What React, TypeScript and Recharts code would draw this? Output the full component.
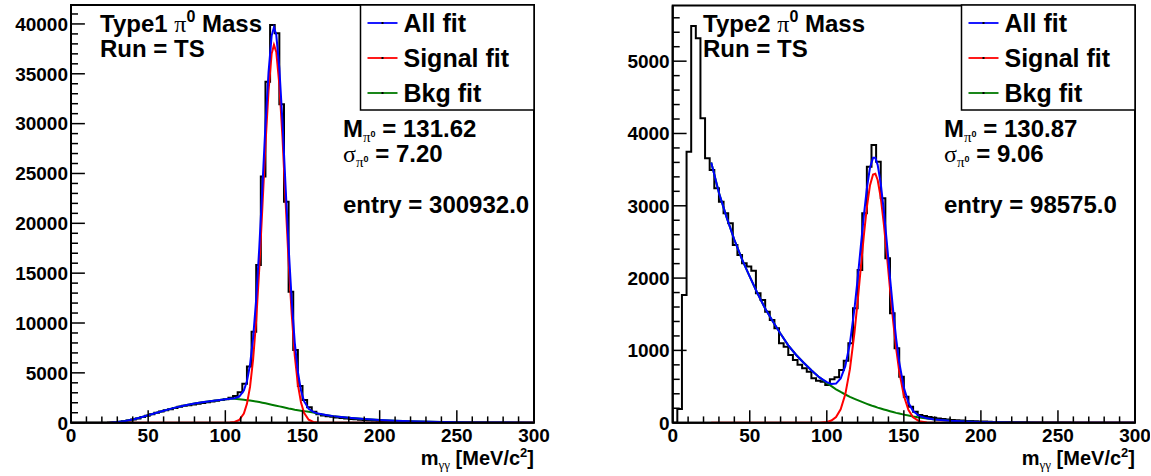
import React from 'react';
import { ComposedChart, Line, XAxis, YAxis, ReferenceArea } from 'recharts';

// ---------- data ----------
const BIN_WIDTH = 3; // MeV per histogram bin
const X_DOMAIN: [number, number] = [0, 300];
const X_TICK_LABELS = [0, 50, 100, 150, 200, 250, 300];
const X_MINOR_STEP = 10;

const Y1_MAX = 41900;
const Y1_TICK_LABELS = [0, 5000, 10000, 15000, 20000, 25000, 30000, 35000, 40000];
const Y1_MINOR_STEP = 1000;
const Y2_MAX = 5770;
const Y2_TICK_LABELS = [0, 1000, 2000, 3000, 4000, 5000];
const Y2_MINOR_STEP = 200;

// Type1 histogram, 100 bins of 3 MeV from 0 to 300
const TYPE1_COUNTS = [
  0, 0, 0, 0, 0, 0, 0, 0, 20, 40,
  80, 150, 230, 330, 430, 560, 700, 850, 1000, 1120,
  1250, 1360, 1480, 1600, 1700, 1760, 1830, 1900, 1980, 2050,
  2120, 2200, 2270, 2340, 2500, 2680, 3050, 3900, 5650, 9130,
  15820, 24700, 34200, 39900, 39070, 31940, 22170, 13140, 7290, 3680,
  2280, 1540, 1100, 840, 720, 650, 590, 530, 470, 420,
  380, 340, 300, 270, 240, 210, 190, 170, 150, 130,
  115, 100, 90, 80, 70, 60, 52, 45, 40, 35,
  30, 26, 22, 19, 16, 14, 12, 10, 9, 8,
  7, 6, 5, 5, 4, 4, 3, 3, 2, 2,
];

// Type2 histogram, 100 bins of 3 MeV from 0 to 300
const TYPE2_COUNTS = [
  0, 190, 1766, 3748, 5487, 5317, 4210, 3657, 3495, 3242,
  3057, 2896, 2758, 2458, 2320, 2205, 2160, 2100, 1790, 1697,
  1535, 1420, 1306, 1098, 1051, 936, 867, 800, 752, 705,
  614, 581, 567, 521, 600, 628, 729, 858, 1098, 1582,
  2112, 2896, 3541, 3841, 3610, 3103, 2273, 1513, 1029, 636,
  360, 221, 152, 106, 92, 80, 68, 58, 50, 44,
  38, 33, 29, 25, 22, 19, 17, 15, 13, 11,
  10, 9, 8, 7, 6, 5, 5, 4, 4, 3,
  3, 3, 2, 2, 2, 2, 1, 1, 1, 1,
  1, 1, 0, 0, 0, 0, 0, 0, 0, 0,
];

// Type1 fit curves
const FIT1_X = [25, 30, 35, 40, 45, 50, 55, 60, 65, 70, 75, 80, 85, 90, 95, 100, 103, 106, 109, 112, 114, 116, 118, 120, 122, 124, 126, 128, 130, 131.5, 133, 135, 137, 139, 141, 143, 145, 147, 149, 151, 154, 157, 160, 165, 170, 175, 180, 190, 200, 210, 220, 240, 260, 280, 300];
const FIT1_BKG = [0, 60, 170, 330, 530, 750, 980, 1200, 1410, 1610, 1780, 1920, 2040, 2150, 2260, 2350, 2390, 2390, 2350, 2300, 2260, 2220, 2170, 2120, 2070, 2010, 1950, 1880, 1810, 1760, 1710, 1640, 1570, 1500, 1430, 1370, 1310, 1260, 1210, 1160, 1090, 1010, 900, 780, 660, 570, 490, 360, 260, 190, 135, 65, 30, 12, 5];
const FIT1_SIGNAL = [0, 0, 0, 0, 0, 0, 0, 0, 0, 0, 0, 0, 0, 0, 0, 3, 14, 68, 272, 926, 1890, 3590, 6340, 10290, 15500, 21600, 27900, 33300, 37000, 37900, 37200, 33900, 28700, 22300, 16200, 10900, 6700, 3850, 2040, 1000, 300, 75, 15, 1, 0, 0, 0, 0, 0, 0, 0, 0, 0, 0, 0];
const FIT1_ALL = [0, 60, 170, 330, 530, 750, 980, 1200, 1410, 1610, 1780, 1920, 2040, 2150, 2260, 2353, 2404, 2458, 2622, 3226, 4150, 5810, 8510, 12410, 17570, 23610, 29850, 35180, 38810, 39660, 38910, 35540, 30270, 23800, 17630, 12270, 8010, 5110, 3250, 2160, 1390, 1085, 915, 781, 660, 570, 490, 360, 260, 190, 135, 65, 30, 12, 5];

// Type2 fit curves
const FIT2_X = [25, 30, 35, 40, 45, 50, 55, 60, 65, 70, 75, 80, 85, 90, 95, 100, 103, 106, 109, 112, 115, 118, 120, 122, 124, 126, 128, 130, 131.5, 133, 135, 137, 139, 141, 143, 145, 147, 150, 153, 156, 160, 165, 170, 180, 190, 200, 220, 240, 260, 280, 300];
const FIT2_BKG = [3600, 3180, 2840, 2530, 2260, 2020, 1790, 1580, 1400, 1230, 1070, 940, 830, 725, 630, 550, 505, 462, 425, 390, 358, 330, 312, 295, 278, 261, 245, 230, 220, 209, 196, 183, 171, 159, 147, 136, 126, 112, 99, 87, 73, 57, 45, 27, 16, 9, 3, 1, 0, 0, 0];
const FIT2_SIGNAL = [0, 0, 0, 0, 0, 0, 0, 0, 0, 0, 0, 0, 0, 0, 0, 10, 30, 79, 186, 392, 740, 1253, 1674, 2130, 2580, 2980, 3280, 3433, 3443, 3357, 3115, 2750, 2314, 1853, 1416, 1028, 712, 373, 176, 75, 20, 3, 0, 0, 0, 0, 0, 0, 0, 0, 0];
const FIT2_ALL = [3600, 3180, 2840, 2530, 2260, 2020, 1790, 1580, 1400, 1230, 1070, 940, 830, 725, 630, 560, 535, 541, 611, 782, 1098, 1583, 1986, 2425, 2858, 3241, 3525, 3663, 3663, 3566, 3311, 2933, 2485, 2012, 1563, 1164, 838, 485, 275, 162, 93, 60, 45, 27, 16, 9, 3, 1, 0, 0, 0];

const TITLES = ['Type1', 'Type2'];
const RUN_LABEL = 'Run = TS';
const MASS_VALUES = ['131.62', '130.87'];
const SIGMA_VALUES = ['7.20', '9.06'];
const ENTRY_VALUES = ['300932.0', '98575.0'];
const LEGEND_LABELS = ['All fit', 'Signal fit', 'Bkg fit'];

// ---------- style ----------
const SANS = '"Liberation Sans", Arial, Helvetica, sans-serif';
const SERIF = '"Liberation Serif", "Times New Roman", serif';
const BLUE = '#0000ff';
const RED = '#ff0000';
const GREEN = '#007a00';
const LEGEND_COLORS = [BLUE, RED, GREEN];

const CHART_W = 575;
const CHART_H = 476;
const X_AXIS_H = 40;
const Y_AXIS_W = 60;

const histTable = (counts: number[]) => [
  ...counts.map((c, i) => ({ x: i * BIN_WIDTH, y: c })),
  { x: counts.length * BIN_WIDTH, y: counts[counts.length - 1] },
];
const fitTable = (xs: number[], ys: number[]) => xs.map((x, i) => ({ x, y: ys[i] }));
const stepTicks = (max: number, step: number) => {
  const out: number[] = [];
  for (let v = 0; v <= max + 1e-9; v += step) out.push(v);
  return out;
};

const XTick = (props: any) => {
  const { x, y, payload } = props;
  const major = X_TICK_LABELS.includes(payload.value);
  return (
    <g>
      <line x1={x} x2={x} y1={y} y2={y - (major ? 12.5 : 6.3)} stroke="#000" strokeWidth={1.5} />
      {major && (
        <text x={x} y={y + 19} textAnchor="middle" fontFamily={SANS} fontWeight="bold" fontSize={19} fill="#000">
          {payload.value}
        </text>
      )}
    </g>
  );
};

const makeYTick = (labels: number[]) => (props: any) => {
  const { x, y, payload } = props;
  const major = labels.includes(payload.value);
  return (
    <g>
      <line x1={x} x2={x + (major ? 13.9 : 7)} y1={y} y2={y} stroke="#000" strokeWidth={1.5} />
      {major && (
        <text x={x - 3} y={y + 6.8} textAnchor="end" fontFamily={SANS} fontWeight="bold" fontSize={19} fill="#000">
          {payload.value}
        </text>
      )}
    </g>
  );
};

type PanelProps = {
  left: number;
  plotLeft: number;
  plotRight: number;
  plotTop: number;
  plotBottom: number;
  counts: number[];
  fitX: number[];
  fitAll: number[];
  fitSig: number[];
  fitBkg: number[];
  yMax: number;
  yLabels: number[];
  yStep: number;
};

const Panel = ({ left, plotLeft, plotRight, plotTop, plotBottom, counts, fitX, fitAll, fitSig, fitBkg, yMax, yLabels, yStep }: PanelProps) => {
  const yTicks = stepTicks(yMax, yStep);
  const xTicks = stepTicks(X_DOMAIN[1], X_MINOR_STEP);
  const margin = {
    top: plotTop,
    right: CHART_W - plotRight,
    bottom: CHART_H - plotBottom - X_AXIS_H,
    left: plotLeft - Y_AXIS_W,
  };
  const YTick = makeYTick(yLabels);
  return (
    <div style={{ position: 'absolute', left, top: 0, width: CHART_W, height: CHART_H }}>
      <ComposedChart width={CHART_W} height={CHART_H} margin={margin}>
        <XAxis
          type="number"
          dataKey="x"
          domain={X_DOMAIN}
          ticks={xTicks}
          interval={0}
          height={X_AXIS_H}
          tickSize={0}
          tickMargin={0}
          tickLine={false}
          tick={(p: any) => <XTick {...p} />}
          axisLine={{ stroke: '#000', strokeWidth: 2 }}
          allowDataOverflow
        />
        <YAxis
          type="number"
          dataKey="y"
          domain={[0, yMax]}
          ticks={yTicks}
          interval={0}
          width={Y_AXIS_W}
          tickSize={0}
          tickMargin={0}
          tickLine={false}
          tick={(p: any) => <YTick {...p} />}
          axisLine={{ stroke: '#000', strokeWidth: 2 }}
          allowDataOverflow
        />
        <ReferenceArea x1={X_DOMAIN[0]} x2={X_DOMAIN[1]} y1={0} y2={yMax} fill="none" stroke="#000" strokeWidth={2} />
        <Line data={histTable(counts)} dataKey="y" type="stepAfter" stroke="#000" strokeWidth={2} dot={false} isAnimationActive={false} />
        <Line data={fitTable(fitX, fitBkg)} dataKey="y" type="linear" stroke={GREEN} strokeWidth={2} dot={false} isAnimationActive={false} />
        <Line data={fitTable(fitX, fitSig)} dataKey="y" type="linear" stroke={RED} strokeWidth={2} dot={false} isAnimationActive={false} />
        <Line data={fitTable(fitX, fitAll)} dataKey="y" type="linear" stroke={BLUE} strokeWidth={2} dot={false} isAnimationActive={false} />
      </ComposedChart>
    </div>
  );
};

const Texts = ({ idx, plotRight, titleX, statsX }: { idx: number; plotRight: number; titleX: number; statsX: number }) => {
  const legW = 173.5;
  const legX = plotRight - legW;
  const baseText = { fontFamily: SANS, fontWeight: 'bold' as const, fill: '#000' };
  return (
    <g>
      {/* title */}
      <text x={titleX} y={32} fontSize={24} {...baseText}>
        {TITLES[idx]} <tspan fontFamily={SERIF} fontWeight="normal">π</tspan>
        <tspan fontSize={16} dy={-10}>0</tspan>
        <tspan dy={10}> Mass</tspan>
      </text>
      <text x={titleX} y={57} fontSize={24} {...baseText}>{RUN_LABEL}</text>

      {/* legend */}
      <rect x={legX} y={5} width={legW} height={105} fill="#fff" stroke="#000" strokeWidth={1.5} />
      {LEGEND_LABELS.map((lab, i) => {
        const cy = 23 + i * 35;
        return (
          <g key={lab}>
            <line x1={legX + 7} x2={legX + 37} y1={cy} y2={cy} stroke={LEGEND_COLORS[i]} strokeWidth={1.8} />
            <rect x={legX + 21} y={cy - 1} width={2} height={2} fill="#000" />
            <text x={legX + 43} y={cy + 8.5} fontSize={25} {...baseText}>{lab}</text>
          </g>
        );
      })}

      {/* stats */}
      <text x={statsX} y={137} fontSize={24} {...baseText}>
        M<tspan fontFamily={SERIF} fontWeight="normal" fontSize={15} dy={5}>π</tspan>
        <tspan fontSize={9} dy={-5}>0</tspan>
        <tspan dy={0}> = {MASS_VALUES[idx]}</tspan>
      </text>
      <text x={statsX} y={162} fontSize={24} {...baseText}>
        <tspan fontFamily={SERIF} fontWeight="normal">σ</tspan>
        <tspan fontFamily={SERIF} fontWeight="normal" fontSize={15} dy={5}>π</tspan>
        <tspan fontSize={9} dy={-5}>0</tspan>
        <tspan dy={0}> = {SIGMA_VALUES[idx]}</tspan>
      </text>
      <text x={statsX} y={213} fontSize={24} {...baseText}>entry = {ENTRY_VALUES[idx]}</text>

      {/* x axis title */}
      <text x={plotRight} y={465} textAnchor="end" fontSize={20} {...baseText}>
        m<tspan fontFamily={SERIF} fontWeight="normal" fontSize={13} dy={4}>γγ</tspan>
        <tspan dy={-4}> [MeV/c</tspan>
        <tspan fontSize={13} dy={-8}>2</tspan>
        <tspan dy={8}>]</tspan>
      </text>
    </g>
  );
};

export default function App() {
  return (
    <div style={{ position: 'fixed', left: 0, top: 0, width: 1151, height: 476, background: '#fff', overflow: 'hidden' }}>
      <Panel
        left={0}
        plotLeft={71}
        plotRight={534}
        plotTop={5}
        plotBottom={422.7}
        counts={TYPE1_COUNTS}
        fitX={FIT1_X}
        fitAll={FIT1_ALL}
        fitSig={FIT1_SIGNAL}
        fitBkg={FIT1_BKG}
        yMax={Y1_MAX}
        yLabels={Y1_TICK_LABELS}
        yStep={Y1_MINOR_STEP}
      />
      <Panel
        left={575}
        plotLeft={97.7}
        plotRight={560}
        plotTop={5.5}
        plotBottom={422.7}
        counts={TYPE2_COUNTS}
        fitX={FIT2_X}
        fitAll={FIT2_ALL}
        fitSig={FIT2_SIGNAL}
        fitBkg={FIT2_BKG}
        yMax={Y2_MAX}
        yLabels={Y2_TICK_LABELS}
        yStep={Y2_MINOR_STEP}
      />
      <svg width={1151} height={476} style={{ position: 'absolute', left: 0, top: 0, pointerEvents: 'none' }}>
        <Texts idx={0} plotRight={534} titleX={100} statsX={343} />
        <Texts idx={1} plotRight={1135} titleX={703} statsX={944} />
      </svg>
    </div>
  );
}
